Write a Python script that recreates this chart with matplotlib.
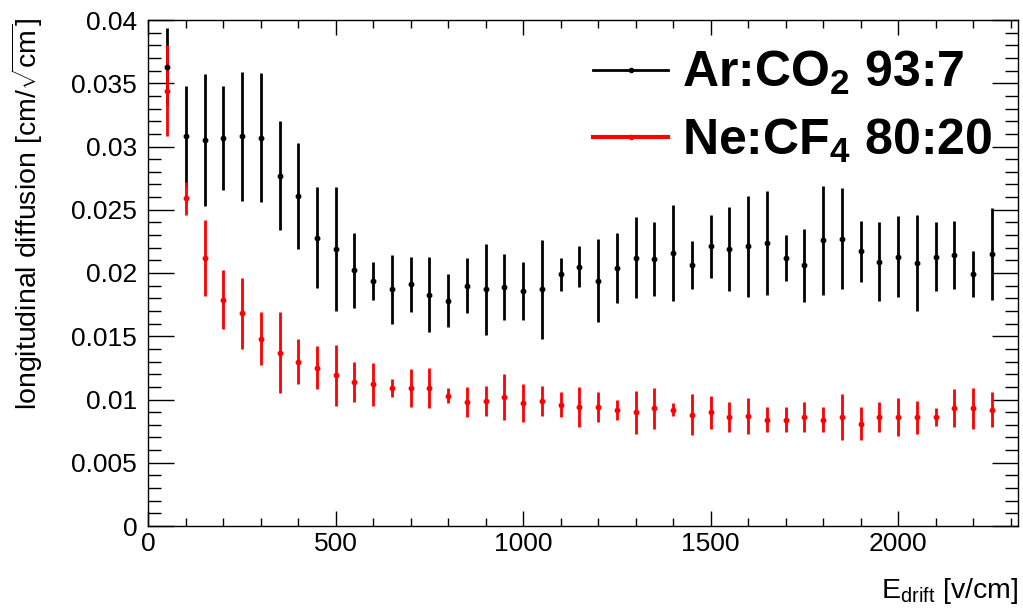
import matplotlib
matplotlib.use('Agg')
import matplotlib.pyplot as plt
from matplotlib.lines import Line2D
from matplotlib.ticker import MultipleLocator

plt.rcParams['font.family'] = ['Liberation Sans', 'DejaVu Sans']
plt.rcParams['mathtext.fontset'] = 'custom'
plt.rcParams['mathtext.rm'] = 'Liberation Sans'
plt.rcParams['mathtext.bf'] = 'Liberation Sans:bold'

# drift field [v/cm]
e_drift = [50, 100, 150, 200, 250, 300, 350, 400, 450, 500,
           550, 600, 650, 700, 750, 800, 850, 900, 950, 1000,
           1050, 1100, 1150, 1200, 1250, 1300, 1350, 1400, 1450, 1500,
           1550, 1600, 1650, 1700, 1750, 1800, 1850, 1900, 1950, 2000,
           2050, 2100, 2150, 2200, 2250]

# Ar:CO2 93:7
ar_co2 = [0.0363, 0.0308, 0.0305, 0.0307, 0.0308, 0.0307, 0.0277, 0.0261, 0.0228, 0.0219,
          0.0202, 0.0194, 0.0187, 0.0191, 0.0183, 0.0178, 0.0190, 0.0187, 0.0189, 0.0186,
          0.0187, 0.0199, 0.0205, 0.0194, 0.0204, 0.0212, 0.0211, 0.0216, 0.0206, 0.0221,
          0.0219, 0.0221, 0.0224, 0.0212, 0.0206, 0.0226, 0.0227, 0.0217, 0.0209, 0.0213,
          0.0208, 0.0213, 0.0214, 0.0199, 0.0215]
ar_co2_err = [0.0031, 0.0040, 0.0052, 0.0041, 0.0051, 0.0051, 0.0043, 0.0042, 0.0040, 0.0049,
              0.0030, 0.0015, 0.0027, 0.0022, 0.0030, 0.0021, 0.0022, 0.0036, 0.0026, 0.0023,
              0.0039, 0.0013, 0.0016, 0.0033, 0.0028, 0.0032, 0.0029, 0.0038, 0.0019, 0.0025,
              0.0033, 0.0040, 0.0041, 0.0018, 0.0029, 0.0043, 0.0040, 0.0024, 0.0031, 0.0032,
              0.0038, 0.0027, 0.0027, 0.0018, 0.0036]

# Ne:CF4 80:20
ne_cf4 = [0.0344, 0.0259, 0.0212, 0.0179, 0.0168, 0.0148, 0.0137, 0.0130, 0.0125, 0.0119,
          0.0114, 0.0112, 0.0109, 0.0109, 0.0109, 0.0103, 0.0098, 0.0099, 0.0102, 0.0097,
          0.0099, 0.0096, 0.0094, 0.0094, 0.0092, 0.0090, 0.0093, 0.0092, 0.0088, 0.0090,
          0.0086, 0.0087, 0.0084, 0.0084, 0.0086, 0.0084, 0.0086, 0.0081, 0.0086, 0.0086,
          0.0086, 0.0086, 0.0093, 0.0093, 0.0092]
ne_cf4_err = [0.0036, 0.0013, 0.0030, 0.0023, 0.0028, 0.0021, 0.0032, 0.0018, 0.0017, 0.0024,
              0.0016, 0.0017, 0.0007, 0.0015, 0.0016, 0.0006, 0.0012, 0.0012, 0.0018, 0.0015,
              0.0012, 0.0010, 0.0016, 0.0012, 0.0008, 0.0017, 0.0016, 0.0005, 0.0016, 0.0013,
              0.0012, 0.0014, 0.0010, 0.0010, 0.0012, 0.0010, 0.0018, 0.0013, 0.0012, 0.0015,
              0.0013, 0.0007, 0.0015, 0.0016, 0.0014]

W, H = 1023, 616
fig = plt.figure(figsize=(W / 100, H / 100), dpi=100)
x0, x1, y0, y1 = 148.3, 1018, 20, 526
ax = fig.add_axes([x0 / W, 1 - y1 / H, (x1 - x0) / W, (y1 - y0) / H])

ax.errorbar(e_drift, ar_co2, yerr=ar_co2_err, fmt='none', ecolor='black',
            elinewidth=2.0, capsize=0, zorder=2)
ax.errorbar(e_drift, ne_cf4, yerr=ne_cf4_err, fmt='o', color='red', ms=3.2,
            elinewidth=2.0, capsize=0, zorder=3)
ax.plot(e_drift, ar_co2, 'o', color='black', ms=3.2, zorder=4)

ax.set_xlim(0, 2320)
ax.set_ylim(0, 0.04)
ax.xaxis.set_major_locator(MultipleLocator(500))
ax.xaxis.set_minor_locator(MultipleLocator(100))
ax.yaxis.set_minor_locator(MultipleLocator(0.001))
ax.set_yticks([0, 0.005, 0.01, 0.015, 0.02, 0.025, 0.03, 0.035, 0.04])
ax.set_yticklabels(['0', '0.005', '0.01', '0.015', '0.02', '0.025', '0.03', '0.035', '0.04'])
ax.tick_params(which='both', direction='in', top=True, right=True, width=1)
ax.tick_params(axis='x', which='major', length=11, labelsize=19, pad=4)
ax.tick_params(axis='x', which='minor', length=5.5)
ax.tick_params(axis='y', which='major', length=19, labelsize=19, pad=8)
ax.tick_params(axis='y', which='minor', length=9.5)
for s in ax.spines.values():
    s.set_linewidth(1)

fig.text(x1 / W, 1 - 598 / H, r'E$_{\mathrm{drift}}$ [v/cm]', ha='right',
         va='baseline', fontsize=20.5)
fig.text(27 / W, 1 - 18 / H, r'longitudinal diffusion [cm/$\sqrt{\mathrm{cm}}$]',
         rotation=90, ha='center', va='top', fontsize=20.5)

handles = [Line2D([], [], color='black', lw=2, marker='o', ms=3),
           Line2D([], [], color='red', lw=3, marker='o', ms=3)]
labels = [r'Ar:CO$_{\mathbf{2}}$ 93:7', r'Ne:CF$_{\mathbf{4}}$ 80:20']
ax.legend(handles, labels, loc='upper left', bbox_to_anchor=(558 / W, 1 - 14 / H),
          bbox_transform=fig.transFigure, frameon=False,
          prop={'size': 36, 'weight': 'bold'}, handlelength=1.5,
          handletextpad=0.27, labelspacing=0.39, borderpad=0.2)

fig.savefig('out.png', dpi=100)
